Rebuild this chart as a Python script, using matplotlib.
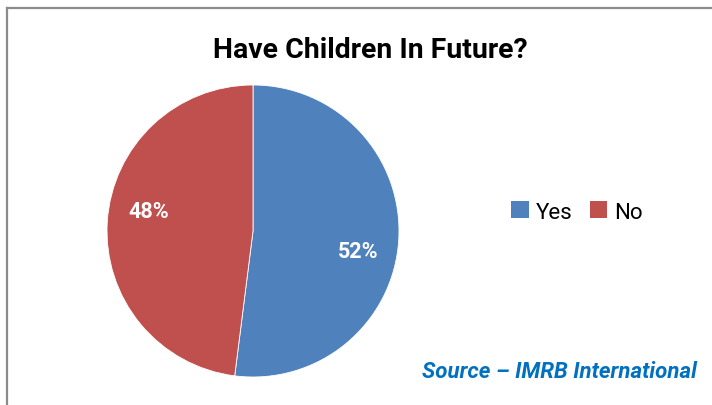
import matplotlib.pyplot as plt
from matplotlib.lines import Line2D
import numpy as np

# Survey answers
answers = ['Yes', 'No']
shares = [52, 48]
colors = ['#4F81BD', '#C0504D']
title = 'Have Children In Future?'
source = 'Source \u2013 IMRB International'

W, H = 712, 406
fig = plt.figure(figsize=(W / 100, H / 100), dpi=100)
fig.patch.set_facecolor('white')
plt.rcParams['font.family'] = ['Roboto', 'DejaVu Sans']

# chart frame (left and top edges)
fig.add_artist(Line2D([7 / W, 7 / W], [0, 1 - 8.5 / H], color='#8c8c8c', lw=1.6))
fig.add_artist(Line2D([7 / W, 1], [1 - 8.5 / H, 1 - 8.5 / H], color='#8c8c8c', lw=1.6))

cx, cy, r = 253, 232, 146
ax = fig.add_axes([(cx - r) / W, (H - cy - r) / H, 2 * r / W, 2 * r / H])
wedges, _ = ax.pie(shares, colors=colors, startangle=90, counterclock=False,
                   wedgeprops=dict(edgecolor='white', linewidth=0.6))
ax.set_xlim(-1, 1)
ax.set_ylim(-1, 1)
ax.set_aspect('equal')
ax.axis('off')

# percentage labels inside the slices
for w, v in zip(wedges, shares):
    mid = np.deg2rad((w.theta1 + w.theta2) / 2 - 7)
    ax.text(0.73 * np.cos(mid), 0.73 * np.sin(mid), f'{v}%', color='white',
            fontsize=15.5, fontweight='bold', ha='center', va='center')

fig.text(370 / W, 1 - 51 / H, title, ha='center', va='center',
         fontsize=20.4, fontweight='bold', color='black')

leg = fig.legend(wedges, answers, loc='center', bbox_to_anchor=(577 / W, 1 - 213 / H),
                 ncol=2, frameon=False, fontsize=16, handlelength=0.78, handleheight=0.78,
                 handletextpad=0.3, columnspacing=0.8)
for h in leg.legend_handles:
    h.set_edgecolor('none')

fig.text(697 / W, 1 - 372 / H, source, ha='right', va='center', fontsize=16,
         fontweight='bold', fontstyle='italic', color='#0070C0')

fig.savefig('out.png', dpi=100)
